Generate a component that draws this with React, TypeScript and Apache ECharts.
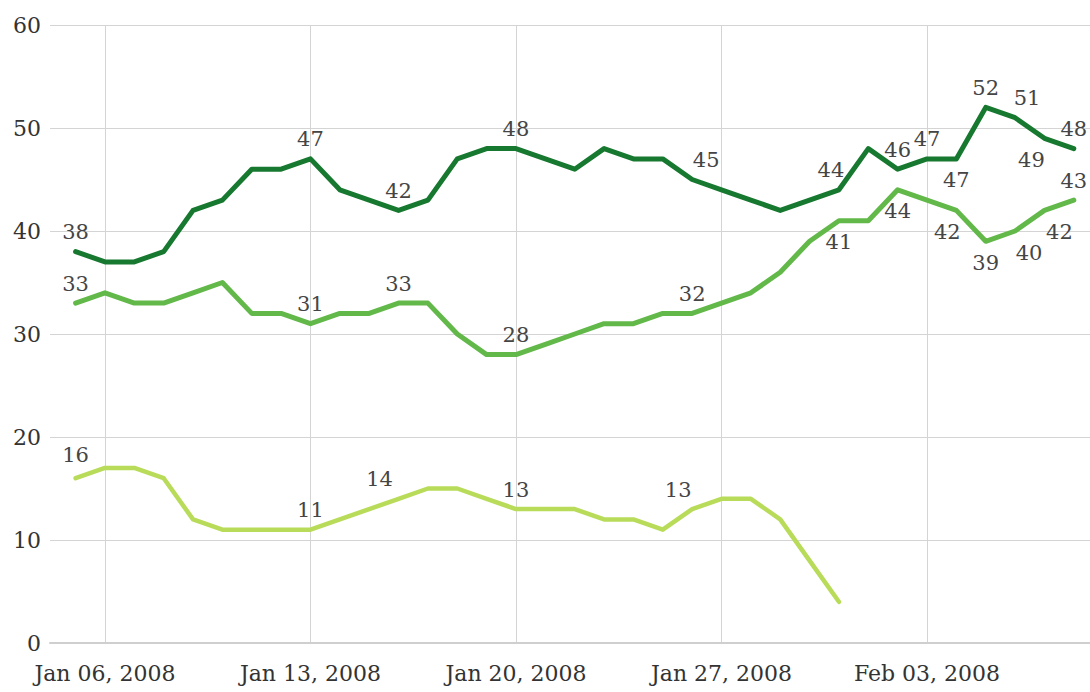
import React, { useEffect, useRef } from "react";
import * as echarts from "echarts";

// ---- data ----
const dates = [
  "Jan 05", "Jan 06", "Jan 07", "Jan 08", "Jan 09", "Jan 10", "Jan 11", "Jan 12",
  "Jan 13", "Jan 14", "Jan 15", "Jan 16", "Jan 17", "Jan 18", "Jan 19", "Jan 20",
  "Jan 21", "Jan 22", "Jan 23", "Jan 24", "Jan 25", "Jan 26", "Jan 27", "Jan 28",
  "Jan 29", "Jan 30", "Jan 31", "Feb 01", "Feb 02", "Feb 03", "Feb 04", "Feb 05",
  "Feb 06", "Feb 07", "Feb 08",
];

const seriesDark = [
  38, 37, 37, 38, 42, 43, 46, 46, 47, 44, 43, 42, 43, 47, 48, 48,
  47, 46, 48, 47, 47, 45, 44, 43, 42, 43, 44, 48, 46, 47, 47, 52,
  51, 49, 48,
];

const seriesMid = [
  33, 34, 33, 33, 34, 35, 32, 32, 31, 32, 32, 33, 33, 30, 28, 28,
  29, 30, 31, 31, 32, 32, 33, 34, 36, 39, 41, 41, 44, 43, 42, 39,
  40, 42, 43,
];

const seriesLime = [
  16, 17, 17, 16, 12, 11, 11, 11, 11, 12, 13, 14, 15, 15, 14, 13,
  13, 13, 12, 12, 11, 13, 14, 14, 12, 8, 4,
];

const tickDates = ["Jan 06", "Jan 13", "Jan 20", "Jan 27", "Feb 03"];
const tickLabels = ["Jan 06, 2008", "Jan 13, 2008", "Jan 20, 2008", "Jan 27, 2008", "Feb 03, 2008"];

const yMin = 0;
const yMax = 60;
const yStep = 10;

// which points carry a value label
const labelledDark = ["Jan 05", "Jan 13", "Jan 16", "Jan 20", "Jan 26", "Jan 31", "Feb 02", "Feb 03", "Feb 04", "Feb 05", "Feb 06", "Feb 07", "Feb 08"];
const labelledMid = ["Jan 05", "Jan 13", "Jan 16", "Jan 20", "Jan 26", "Jan 31", "Feb 02", "Feb 04", "Feb 05", "Feb 06", "Feb 07", "Feb 08"];
const labelledLime = ["Jan 05", "Jan 13", "Jan 16", "Jan 20", "Jan 26"];

// ---- style / placement (not data) ----
type Place = { pos: "top" | "bottom"; dx?: number; dist?: number };
const placeDark: Record<string, Place> = {
  "Jan 26": { pos: "top", dx: 14 },
  "Jan 31": { pos: "top", dx: -8 },
  "Feb 04": { pos: "bottom" },
  "Feb 06": { pos: "top", dx: 12 },
  "Feb 07": { pos: "bottom", dx: -13 },
};
const placeMid: Record<string, Place> = {
  "Jan 31": { pos: "bottom" },
  "Feb 02": { pos: "bottom" },
  "Feb 04": { pos: "bottom", dx: -9 },
  "Feb 05": { pos: "bottom" },
  "Feb 06": { pos: "bottom", dx: 14 },
  "Feb 07": { pos: "bottom", dx: 15 },
};
const placeLime: Record<string, Place> = {
  "Jan 05": { pos: "top", dist: 12 },
  "Jan 16": { pos: "top", dx: -19 },
  "Jan 26": { pos: "top", dx: -14 },
};

const FONT = "DejaVu Serif";
const COLORS = { dark: "#17782f", mid: "#62b949", lime: "#b8dc5a" };

function buildData(values: number[], labelled: string[], place: Record<string, Place>) {
  return values.map((v, i) => {
    const d = dates[i];
    const item: any = { value: [i, v] };
    if (labelled.includes(d)) {
      const p = place[d] || { pos: "top" };
      item.label = {
        show: true,
        position: p.pos,
        distance: p.dist ?? (p.pos === "top" ? 8 : 10),
        offset: [p.dx ?? 0, 0],
      };
    }
    return item;
  });
}

function lineSeries(name: string, values: number[], labelled: string[], place: Record<string, Place>, color: string, width: number, z: number) {
  return {
    name,
    type: "line",
    data: buildData(values, labelled, place),
    symbol: "circle",
    symbolSize: 2,
    showSymbol: true,
    showAllSymbol: true,
    z,
    itemStyle: { color },
    lineStyle: { color, width, cap: "round", join: "round" },
    label: {
      show: false,
      formatter: (p: any) => String(p.value[1]),
      fontFamily: FONT,
      fontSize: 21,
      color: "#454545",
    },
    emphasis: { disabled: true },
  };
}

export default function App() {
  const ref = useRef<HTMLDivElement>(null);

  useEffect(() => {
    if (!ref.current) return;
    const chart = echarts.init(ref.current, null, { renderer: "svg" });
    const tickIdx = tickDates.map((d) => dates.indexOf(d));
    chart.setOption({
      animation: false,
      backgroundColor: "#ffffff",
      grid: { left: 50, right: 0, top: 25, bottom: 49, containLabel: false },
      xAxis: {
        type: "value",
        min: -0.872,
        max: 34.552,
        axisLine: { show: true, onZero: false, lineStyle: { color: "#cfcfcf", width: 2 } },
        axisTick: { show: false, customValues: tickIdx },
        axisLabel: {
          customValues: tickIdx,
          formatter: (v: number) => {
            const k = tickIdx.indexOf(Math.round(v));
            return k >= 0 ? tickLabels[k] : "";
          },
          fontFamily: FONT,
          fontSize: 22,
          color: "#333333",
          margin: 19,
        },
        splitLine: { show: true, lineStyle: { color: "#d4d4d4", width: 1 } },
      },
      yAxis: {
        type: "value",
        min: yMin,
        max: yMax,
        interval: yStep,
        axisLine: { show: false },
        axisTick: { show: false },
        axisLabel: {
          fontFamily: FONT,
          fontSize: 22,
          color: "#333333",
          margin: 9,
        },
        splitLine: { show: true, lineStyle: { color: "#d4d4d4", width: 1 } },
      },
      series: [
        lineSeries("lime", seriesLime, labelledLime, placeLime, COLORS.lime, 4.5, 2),
        lineSeries("mid", seriesMid, labelledMid, placeMid, COLORS.mid, 5, 3),
        lineSeries("dark", seriesDark, labelledDark, placeDark, COLORS.dark, 5, 4),
      ],
    });
    return () => chart.dispose();
  }, []);

  return (
    <div
      ref={ref}
      style={{ position: "fixed", left: 0, top: 0, width: 1090, height: 692, background: "#fff" }}
    />
  );
}
